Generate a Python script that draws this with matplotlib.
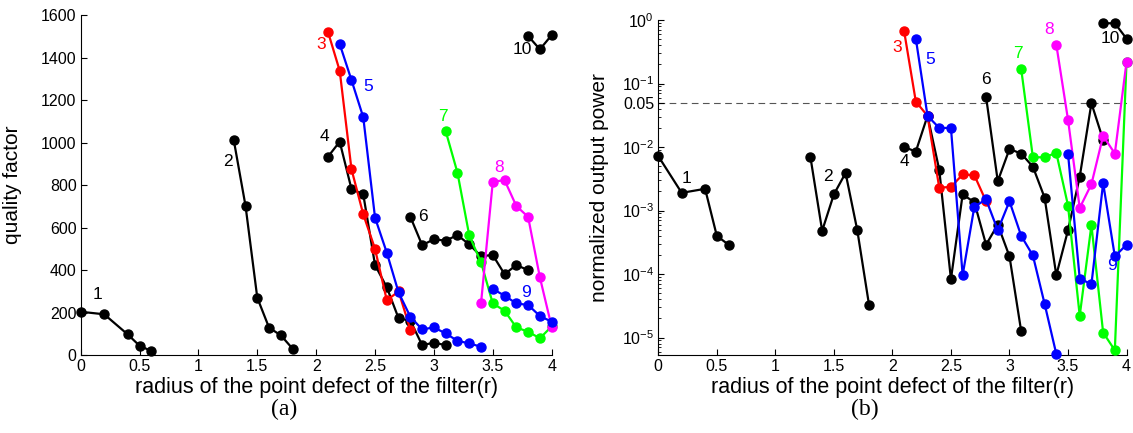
import matplotlib
matplotlib.use("Agg")
import matplotlib.pyplot as plt
from matplotlib.ticker import FixedLocator, FixedFormatter, LogLocator, NullFormatter

plt.rcParams["font.family"] = ["Liberation Sans", "DejaVu Sans"]
plt.rcParams["mathtext.default"] = "regular"

# (a) quality factor, one list per defect family
qx = {
    1: [0, 0.2, 0.4, 0.5, 0.6],
    2: [1.3, 1.4, 1.5, 1.6, 1.7, 1.8],
    3: [2.1, 2.2, 2.3, 2.4, 2.5, 2.6, 2.7, 2.8],
    4: [2.1, 2.2, 2.3, 2.4, 2.5, 2.6, 2.7, 2.8, 2.9, 3.0, 3.1],
    5: [2.2, 2.3, 2.4, 2.5, 2.6, 2.7, 2.8, 2.9, 3.0, 3.1, 3.2, 3.3, 3.4],
    6: [2.8, 2.9, 3.0, 3.1, 3.2, 3.3, 3.4, 3.5, 3.6, 3.7, 3.8],
    7: [3.1, 3.2, 3.3, 3.4, 3.5, 3.6, 3.7, 3.8, 3.9, 4.0],
    8: [3.4, 3.5, 3.6, 3.7, 3.8, 3.9, 4.0],
    9: [3.5, 3.6, 3.7, 3.8, 3.9, 4.0],
    10: [3.8, 3.9, 4.0],
}
q1 = [204, 192, 97, 44, 19]
q2 = [1013, 703, 270, 129, 93, 30]
q3 = [1523, 1339, 875, 663, 500, 258, 300, 120]
q4 = [934, 1005, 782, 757, 424, 319, 173, 162, 47, 58, 47]
q5 = [1465, 1295, 1120, 647, 482, 295, 180, 121, 130, 102, 67, 55, 39]
q6 = [651, 518, 545, 539, 565, 521, 466, 471, 381, 424, 400]
q7 = [1055, 859, 564, 437, 243, 209, 130, 110, 79, 135]
q8 = [243, 816, 824, 702, 651, 366, 133]
q9 = [311, 280, 243, 236, 184, 157]
q10 = [1503, 1440, 1507]

# (b) normalized output power, same x grid
p1 = [7.2e-3, 1.9e-3, 2.2e-3, 4.0e-4, 2.9e-4]
p2 = [6.9e-3, 4.8e-4, 1.8e-3, 3.9e-3, 4.9e-4, 3.3e-5]
p3 = [0.67, 0.052, 0.031, 2.3e-3, 2.35e-3, 3.7e-3, 3.6e-3, 1.4e-3]
p4 = [0.010, 8.5e-3, 0.031, 4.4e-3, 8.3e-5, 1.8e-3, 1.35e-3, 2.9e-4, 6.0e-4, 1.9e-4, 1.26e-5]
p5 = [0.51, 0.031, 0.020, 0.020, 9.6e-5, 1.15e-3, 1.5e-3, 4.9e-4, 1.4e-3, 4.0e-4, 1.96e-4, 3.4e-5, 5.5e-6]
p6 = [0.062, 2.9e-3, 9.3e-3, 7.9e-3, 4.9e-3, 1.6e-3, 9.6e-5, 4.9e-4, 3.4e-3, 0.049, 0.013]
p7 = [0.17, 6.9e-3, 6.9e-3, 8.1e-3, 1.2e-3, 2.2e-5, 5.9e-4, 1.2e-5, 6.3e-6, 0.22]
p8 = [0.41, 0.027, 1.1e-3, 2.6e-3, 0.015, 7.9e-3, 0.22]
p9 = [7.9e-3, 8.5e-5, 6.9e-5, 2.7e-3, 1.9e-4, 2.9e-4]
p10 = [0.89, 0.89, 0.51]

colors = {1: "k", 2: "k", 3: "#ff0000", 4: "k", 5: "#0000ff", 6: "k",
          7: "#00ff00", 8: "#ff00ff", 9: "#0000ff", 10: "k"}
draw_order = [1, 2, 4, 6, 3, 5, 7, 8, 9, 10]
qvals = {1: q1, 2: q2, 3: q3, 4: q4, 5: q5, 6: q6, 7: q7, 8: q8, 9: q9, 10: q10}
pvals = {1: p1, 2: p2, 3: p3, 4: p4, 5: p5, 6: p6, 7: p7, 8: p8, 9: p9, 10: p10}

# where the curve numbers sit
qlab = {1: (0.14, 283), 2: (1.25, 914), 3: (2.04, 1463), 4: (2.07, 1028), 5: (2.44, 1267),
        6: (2.91, 655), 7: (3.08, 1126), 8: (3.55, 882), 9: (3.78, 293), 10: (3.75, 1437)}
plab = {1: (0.24, 3.2e-3), 2: (1.45, 3.4e-3), 3: (2.04, 0.37), 4: (2.10, 6e-3), 5: (2.32, 0.24),
        6: (2.80, 0.117), 7: (3.07, 0.30), 8: (3.34, 0.71), 9: (3.88, 1.35e-4), 10: (3.86, 0.51)}

xticks = [0, 0.5, 1, 1.5, 2, 2.5, 3, 3.5, 4]
xticklabels = ["0", "0.5", "1", "1.5", "2", "2.5", "3", "3.5", "4"]

fig = plt.figure(figsize=(11.33, 4.33), dpi=100)
ax1 = fig.add_axes([0.0712, 0.180, 0.4157, 0.7845])
ax2 = fig.add_axes([0.581, 0.180, 0.4133, 0.7737])

for ax, vals, lab in [(ax1, qvals, qlab), (ax2, pvals, plab)]:
    for k in draw_order:
        ax.plot(qx[k], vals[k], "-o", color=colors[k], lw=1.6, ms=6.5, clip_on=False, zorder=3)
    for k, (tx, ty) in lab.items():
        ax.text(tx, ty, str(k), color=colors[k], fontsize=12.5, ha="center", va="center")
    ax.set_xlim(0, 4)
    ax.set_xticks(xticks)
    ax.set_xticklabels(xticklabels)
    ax.spines[["top", "right"]].set_visible(False)
    ax.tick_params(direction="in", length=4, labelsize=11.5, pad=3)
    ax.tick_params(which="minor", direction="in", length=2.5)
    ax.set_xlabel("radius of the point defect of the filter(r)", fontsize=15.5, labelpad=2)

ax1.set_ylim(0, 1600)
ax1.set_yticks(range(0, 1601, 200))
ax1.set_ylabel("quality factor", fontsize=15)
ax1.yaxis.set_label_coords(-0.125, 0.5)

ax2.set_yscale("log")
ax2.set_ylim(5.3e-6, 1)
ax2.axhline(0.05, color="#555555", lw=0.8, ls=(0, (6, 4)), zorder=1)
yt = [1e-5, 1e-4, 1e-3, 1e-2, 0.05, 1e-1, 1]
ytl = ["$10^{-5}$", "$10^{-4}$", "$10^{-3}$", "$10^{-2}$", "0.05", "$10^{-1}$", "$10^{0}$"]
ax2.yaxis.set_major_locator(FixedLocator(yt))
ax2.yaxis.set_major_formatter(FixedFormatter(ytl))
ax2.yaxis.set_minor_locator(LogLocator(base=10, subs=[2, 3, 4, 5, 6, 7, 8, 9], numticks=20))
ax2.yaxis.set_minor_formatter(NullFormatter())
ax2.set_ylabel("normalized output power", fontsize=15)
ax2.yaxis.set_label_coords(-0.105, 0.5)

fig.text(0.251, 0.055, "(a)", family="Liberation Serif", fontsize=17, ha="center", va="center")
fig.text(0.763, 0.055, "(b)", family="Liberation Serif", fontsize=17, ha="center", va="center")

fig.savefig("out.png", dpi=100)
